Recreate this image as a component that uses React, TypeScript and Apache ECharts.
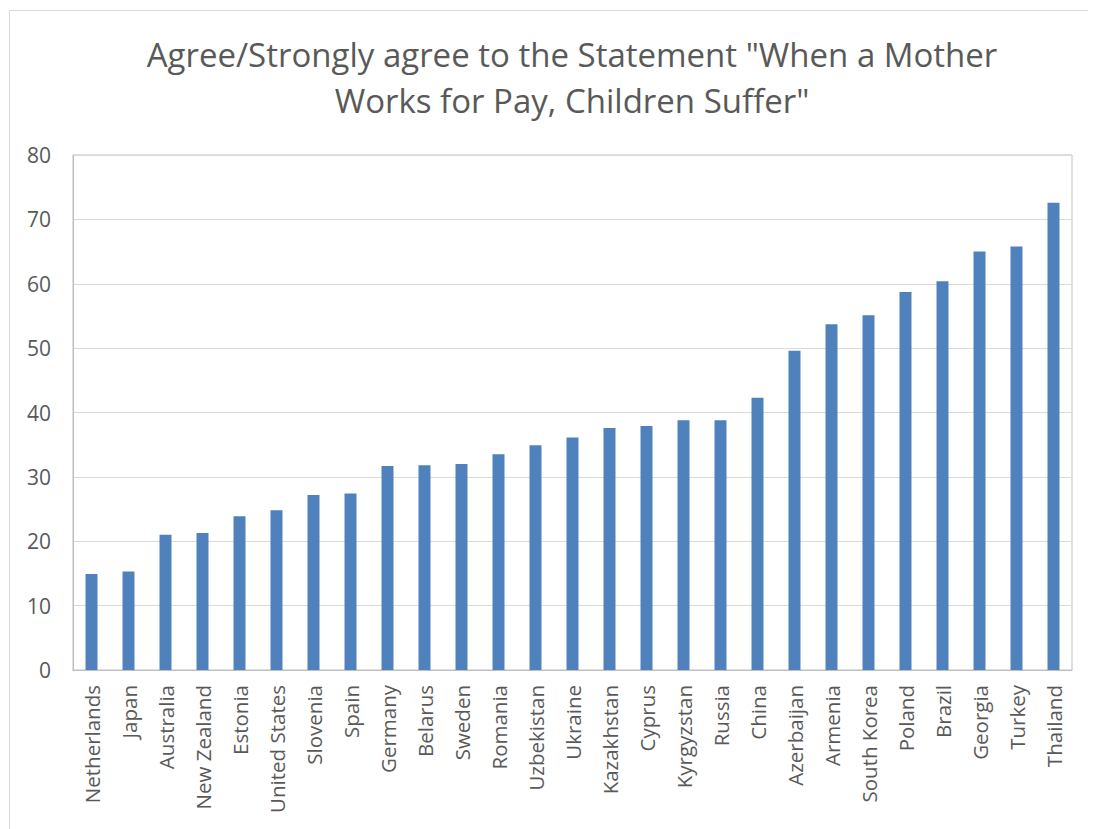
import React, { useEffect, useRef } from "react";
import * as echarts from "echarts";

const countries = [
  "Netherlands", "Japan", "Australia", "New Zealand", "Estonia", "United States",
  "Slovenia", "Spain", "Germany", "Belarus", "Sweden", "Romania", "Uzbekistan",
  "Ukraine", "Kazakhstan", "Cyprus", "Kyrgyzstan", "Russia", "China", "Azerbaijan",
  "Armenia", "South Korea", "Poland", "Brazil", "Georgia", "Turkey", "Thailand",
];
const agreeShare = [
  14.9, 15.3, 21.0, 21.3, 23.9, 24.8, 27.2, 27.4, 31.7, 31.8, 32.0, 33.5, 34.9,
  36.1, 37.6, 37.9, 38.8, 38.8, 42.3, 49.6, 53.7, 55.1, 58.7, 60.4, 65.0, 65.8, 72.6,
];
const titleText = 'Agree/Strongly agree to the Statement "When a Mother\nWorks for Pay, Children Suffer"';

const FONT = "'Open Sans', sans-serif";
const GREY_TEXT = "#595959";

export default function App() {
  const ref = useRef<HTMLDivElement>(null);
  useEffect(() => {
    if (!ref.current) return;
    const chart = echarts.init(ref.current, null, { renderer: "svg" });
    chart.setOption({
      animation: false,
      backgroundColor: "#ffffff",
      title: {
        text: titleText,
        left: 559,
        top: 18,
        textAlign: "center",
        textStyle: {
          fontFamily: FONT,
          fontSize: 33,
          fontWeight: "normal",
          color: GREY_TEXT,
          lineHeight: 46,
        },
      },
      graphic: [
        { type: "line", shape: { x1: 1.5, y1: 2.5, x2: 1088, y2: 2.5 }, style: { stroke: "#d9d9d9", lineWidth: 1 } },
        { type: "line", shape: { x1: 1.5, y1: 2.5, x2: 1.5, y2: 821 }, style: { stroke: "#d9d9d9", lineWidth: 1 } },
      ],
      grid: {
        left: 65,
        right: 24,
        top: 147,
        bottom: 159,
        show: true,
        borderColor: "#bfbfbf",
        borderWidth: 1,
      },
      xAxis: {
        type: "category",
        data: countries,
        axisLine: { lineStyle: { color: "#bfbfbf" } },
        axisTick: { show: false },
        axisLabel: {
          rotate: 90,
          interval: 0,
          margin: 15,
          fontFamily: FONT,
          fontSize: 20.5,
          color: GREY_TEXT,
        },
      },
      yAxis: {
        type: "value",
        min: 0,
        max: 80,
        interval: 10,
        axisLine: { show: true, lineStyle: { color: "#bfbfbf" } },
        axisTick: { show: false },
        splitLine: { lineStyle: { color: "#d9d9d9", width: 1 } },
        axisLabel: {
          margin: 22,
          fontFamily: FONT,
          fontSize: 21,
          color: GREY_TEXT,
        },
      },
      series: [
        {
          type: "bar",
          data: agreeShare,
          barWidth: 12,
          itemStyle: { color: "#4f81bd" },
        },
      ],
    });
    return () => chart.dispose();
  }, []);
  return <div ref={ref} style={{ width: 1088, height: 821 }} />;
}
